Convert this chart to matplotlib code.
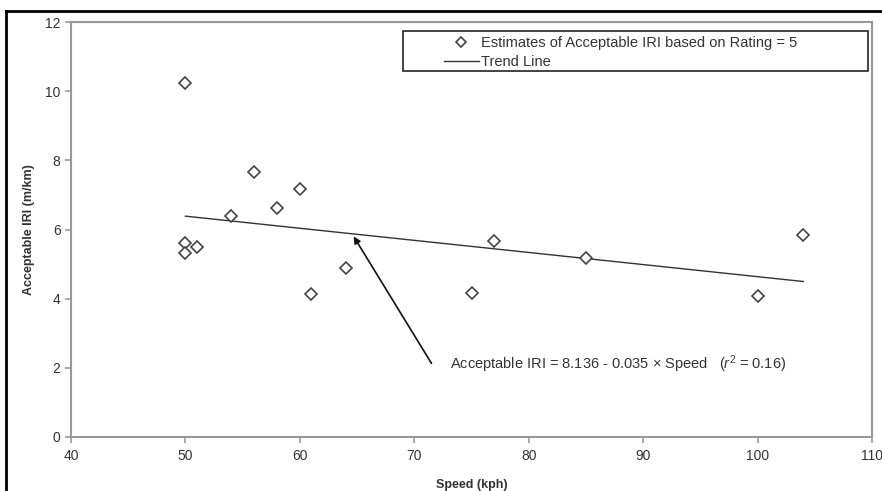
import matplotlib
matplotlib.use("Agg")
import matplotlib.pyplot as plt
from matplotlib.patches import Rectangle
from matplotlib.lines import Line2D

plt.rcParams['font.family'] = ['Liberation Sans', 'DejaVu Sans']
plt.rcParams['mathtext.fontset'] = 'custom'
plt.rcParams['mathtext.rm'] = 'Liberation Sans'
plt.rcParams['mathtext.it'] = 'Liberation Sans:italic'

# Data
speed = [50, 50, 50, 51, 54, 56, 58, 60, 61, 64, 75, 77, 85, 100, 104]
iri = [10.23, 5.62, 5.31, 5.48, 6.40, 7.65, 6.63, 7.17, 4.14, 4.88, 4.17, 5.67, 5.19, 4.08, 5.84]
trend_x = [50, 104]
trend_y = [6.386, 4.496]
x_ticks = [40, 50, 60, 70, 80, 90, 100, 110]
y_ticks = [0, 2, 4, 6, 8, 10, 12]
legend_labels = ["Estimates of Acceptable IRI based on Rating = 5", "Trend Line"]
equation = r"Acceptable IRI = 8.136 - 0.035 × Speed   ($\it{r}$$^{2}$ = 0.16)"

fig = plt.figure(figsize=(8.82, 4.91), dpi=100)
ax = fig.add_axes([71/882, 1 - 437/491, (872 - 71)/882, (437 - 22)/491])

grey = '#999999'
txt = '#333333'

sc, = ax.plot(speed, iri, linestyle='none', marker='D', markersize=6.5,
              markerfacecolor='white', markeredgecolor='#444444', markeredgewidth=1.2,
              zorder=3)
tl, = ax.plot(trend_x, trend_y, color='#333333', lw=1.0, zorder=2)

ax.set_xlim(40, 110)
ax.set_ylim(0, 12)
ax.set_xticks(x_ticks)
ax.set_yticks(y_ticks)
for s in ax.spines.values():
    s.set_color(grey)
    s.set_linewidth(1.5)
ax.tick_params(axis='both', colors=grey, labelcolor=txt, labelsize=10, length=4, width=1.2)
ax.tick_params(axis='x', pad=5)

ax.set_xlabel("Speed (kph)", fontsize=9, fontweight='bold', color=txt, labelpad=11)
ax.set_ylabel("Acceptable IRI (m/km)", fontsize=9, fontweight='bold', color=txt, labelpad=7)

# Legend box
ax.add_patch(Rectangle(((403 - 71) / 801, 1 - (71 - 22) / 415), (868 - 403) / 801, (71 - 31) / 415,
                       transform=ax.transAxes, fill=True, facecolor='white',
                       edgecolor='#222222', lw=1.2, zorder=4))
leg = ax.legend([sc, tl], legend_labels, loc='upper left',
                bbox_to_anchor=((441 - 71) / 801, 1 - (33 - 22) / 415),
                frameon=False, fontsize=10.5, handlelength=2.4, handletextpad=0.15,
                labelspacing=0.35, borderpad=0.2, borderaxespad=0, markerscale=0.8)
leg.set_zorder(5)
for t in leg.get_texts():
    t.set_color(txt)

# Annotation: arrow and text
ax.annotate("", xy=(64.7, 5.8), xytext=(71.5, 2.13),
            arrowprops=dict(arrowstyle='-|>', color='#111111', lw=1.2,
                            mutation_scale=10, shrinkA=0, shrinkB=0))
ax.text(73.1, 2.1, equation, fontsize=10.5, color=txt, va='center', ha='left')

# Outer frame (top and left)
fig.add_artist(Line2D([6/882, 1], [1 - 11/491, 1 - 11/491], color='black', lw=2,
                      transform=fig.transFigure))
fig.add_artist(Line2D([6/882, 6/882], [0, 1 - 11/491], color='black', lw=2,
                      transform=fig.transFigure))

fig.savefig("out.png", dpi=100)
